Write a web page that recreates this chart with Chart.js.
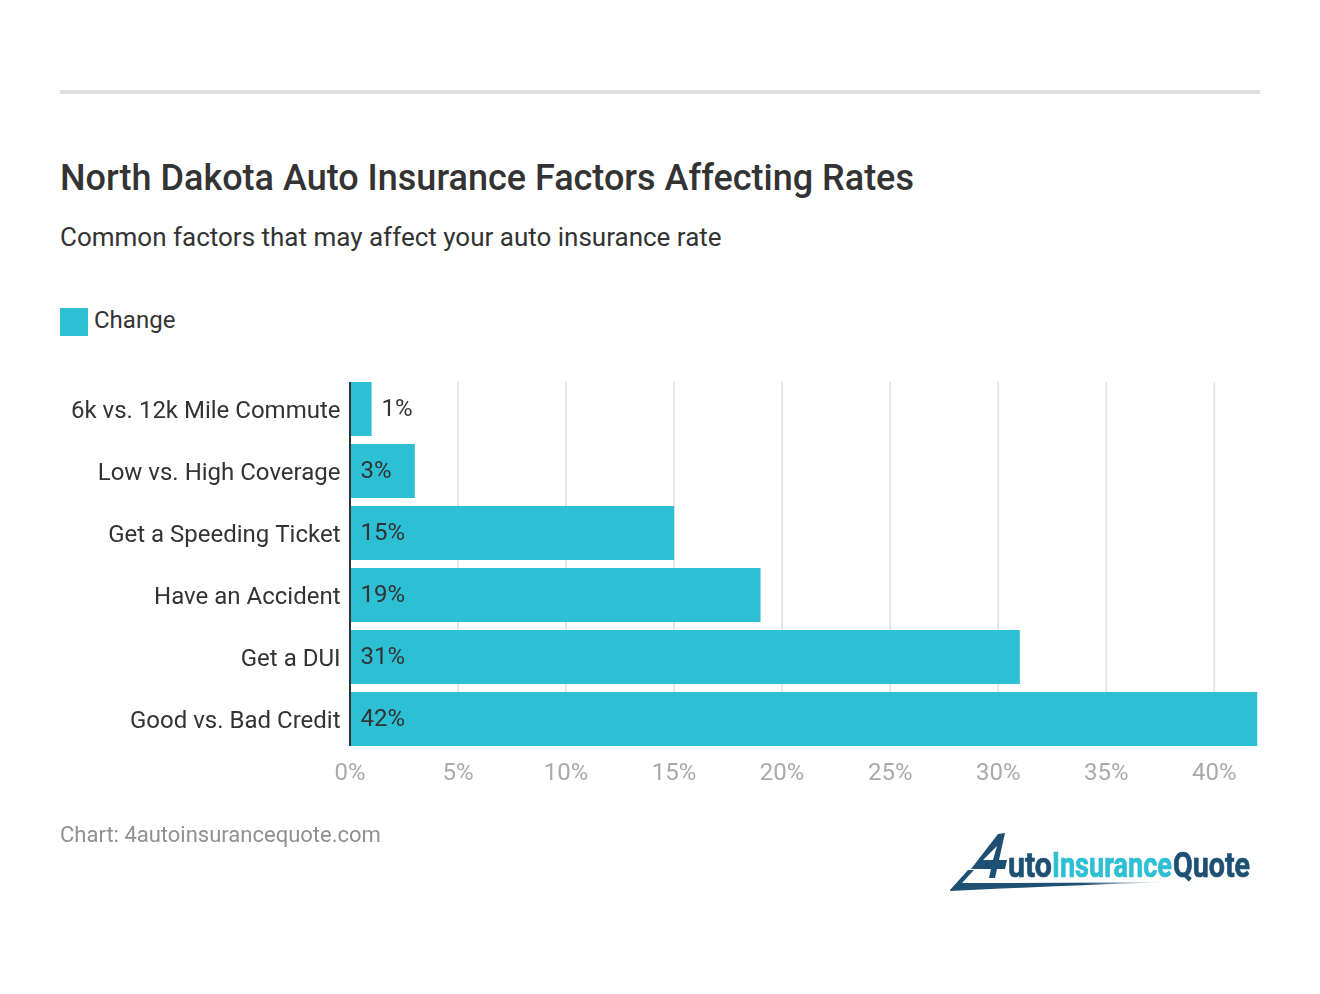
<!DOCTYPE html>
<html>
<head>
<meta charset="utf-8">
<title>North Dakota Auto Insurance Factors Affecting Rates</title>
<script src="https://cdn.jsdelivr.net/npm/chart.js@4"></script>
<style>
  html, body { margin: 0; padding: 0; background: #fff; }
  body { width: 1320px; height: 994px; position: relative; overflow: hidden; font-family: Roboto, sans-serif; color: #333; }
  #rule { position: absolute; left: 60px; top: 90px; width: 1200px; height: 4px; background: #e0e0e0; }
  h1 { position: absolute; left: 60px; top: 156px; margin: 0; font-size: 36px; line-height: 44px; font-weight: 500; white-space: nowrap; }
  #sub { position: absolute; left: 60px; top: 222px; font-size: 26px; line-height: 30px; white-space: nowrap; }
  #swatch { position: absolute; left: 60px; top: 308px; width: 28px; height: 28px; background: #2dbfd3; }
  #legend { position: absolute; left: 94px; top: 305px; font-size: 24px; line-height: 30px; }
  #source { position: absolute; left: 60px; top: 821px; font-size: 22px; line-height: 28px; color: #909090; white-space: nowrap; }
  canvas { position: absolute; left: 0; top: 0; }
  #logo { position: absolute; left: 930px; top: 820px; }
</style>
</head>
<body>
<div id="rule"></div>
<h1>North Dakota Auto Insurance Factors Affecting Rates</h1>
<div id="sub">Common factors that may affect your auto insurance rate</div>
<div id="swatch"></div>
<div id="legend">Change</div>
<div style="position:absolute;left:0;top:0;width:1320px;height:994px"><canvas id="chart"></canvas></div>
<div id="source">Chart: 4autoinsurancequote.com</div>
<svg id="logo" width="340" height="80" viewBox="0 0 340 80">
  <defs>
    <linearGradient id="tail" gradientUnits="userSpaceOnUse" x1="20" x2="240" y1="0" y2="0">
      <stop offset="0" stop-color="#1d5073"/>
      <stop offset="0.6" stop-color="#1d5073"/>
      <stop offset="1" stop-color="#1d5073" stop-opacity="0"/>
    </linearGradient>
  </defs>
  <path d="M68 14 L75 13 L69 40 L77 40 L75 49 L67 49 L65 58 L59 58 L61 49 L41 49 Z M53 40 L63 40 L67 26 Z" fill="#1d5073" fill-rule="evenodd"/>
  <path d="M20 70 L38 50 L44 50 L32 63 Q130 63 240 62 Q120 66 20 71 Z" fill="url(#tail)"/>
  <g font-family="'Liberation Sans Narrow',Roboto,sans-serif" font-weight="700" font-size="35" stroke-width="0.7">
    <text x="78" y="57" fill="#1d5073" stroke="#1d5073" textLength="44" lengthAdjust="spacingAndGlyphs">uto</text>
    <text x="122" y="57" fill="#2dbfd3" stroke="#2dbfd3" textLength="120" lengthAdjust="spacingAndGlyphs">Insurance</text>
    <text x="243" y="57" fill="#1d5073" stroke="#1d5073" textLength="77" lengthAdjust="spacingAndGlyphs">Quote</text>
  </g>
</svg>
<script>
const categories = ['6k vs. 12k Mile Commute', 'Low vs. High Coverage', 'Get a Speeding Ticket', 'Have an Accident', 'Get a DUI', 'Good vs. Bad Credit'];
const changeValues = [1, 3, 15, 19, 31, 42];
const seriesName = 'Change';
const axisMax = 42;
const axisStep = 5;

// grid and axis line stop short of the outer category bands, so they are drawn here
const frameLines = {
  id: 'frameLines',
  beforeDatasetsDraw(c) {
    const x = c.scales.x, ctx = c.ctx;
    const top = c.chartArea.top + 4, bottom = c.chartArea.bottom - 4;
    ctx.save();
    ctx.strokeStyle = '#e6e6e6';
    ctx.lineWidth = 2;
    for (let v = axisStep; v <= axisMax; v += axisStep) {
      const px = x.getPixelForValue(v);
      ctx.beginPath();
      ctx.moveTo(px, top);
      ctx.lineTo(px, bottom);
      ctx.stroke();
    }
    ctx.restore();
  },
  afterDatasetsDraw(c) {
    const x = c.scales.x, ctx = c.ctx;
    const px = x.getPixelForValue(0);
    ctx.save();
    ctx.strokeStyle = '#333';
    ctx.lineWidth = 2;
    ctx.beginPath();
    ctx.moveTo(px, c.chartArea.top + 4);
    ctx.lineTo(px, c.chartArea.bottom - 4);
    ctx.stroke();
    ctx.restore();
  }
};

// category labels and values sit lower than the library's middle baseline
const textLabels = {
  id: 'textLabels',
  afterDatasetsDraw(c) {
    const ctx = c.ctx, y = c.scales.y;
    ctx.save();
    ctx.font = '24px Roboto';
    ctx.fillStyle = '#333';
    ctx.textBaseline = 'middle';
    ctx.textAlign = 'right';
    categories.forEach((name, i) => {
      ctx.fillText(name, y.right - 9.5, y.getPixelForTick(i) + 3);
    });
    ctx.textAlign = 'left';
    c.getDatasetMeta(0).data.forEach((bar, i) => {
      const label = changeValues[i] + '%';
      const inside = bar.x - bar.base > ctx.measureText(label).width + 20;
      ctx.fillText(label, inside ? bar.base + 10.5 : bar.x + 10, bar.y + 1);
    });
    ctx.restore();
  }
};

new Chart(document.getElementById('chart'), {
  type: 'bar',
  data: {
    labels: categories,
    datasets: [{
      label: seriesName,
      data: changeValues,
      backgroundColor: '#2dbfd3',
      barPercentage: 54 / 62,
      categoryPercentage: 1
    }]
  },
  options: {
    indexAxis: 'y',
    responsive: true,
    maintainAspectRatio: false,
    animation: false,
    layout: { padding: { top: 378, right: 62.5, bottom: 204, left: 0 } },
    plugins: { legend: { display: false }, tooltip: { enabled: false } },
    scales: {
      x: {
        min: 0,
        max: axisMax,
        grid: { display: false, tickLength: 0 },
        border: { display: false },
        afterFit(s) { s.height = 40; },
        ticks: {
          stepSize: axisStep,
          includeBounds: false,
          maxRotation: 0,
          padding: 10,
          color: '#aaa',
          font: { family: 'Roboto', size: 24 },
          callback: v => v + '%'
        }
      },
      y: {
        grid: { display: false, tickLength: 0 },
        border: { display: false },
        afterFit(s) { s.width = 350; },
        ticks: { display: false }
      }
    }
  },
  plugins: [frameLines, textLabels]
});
</script>
</body>
</html>
